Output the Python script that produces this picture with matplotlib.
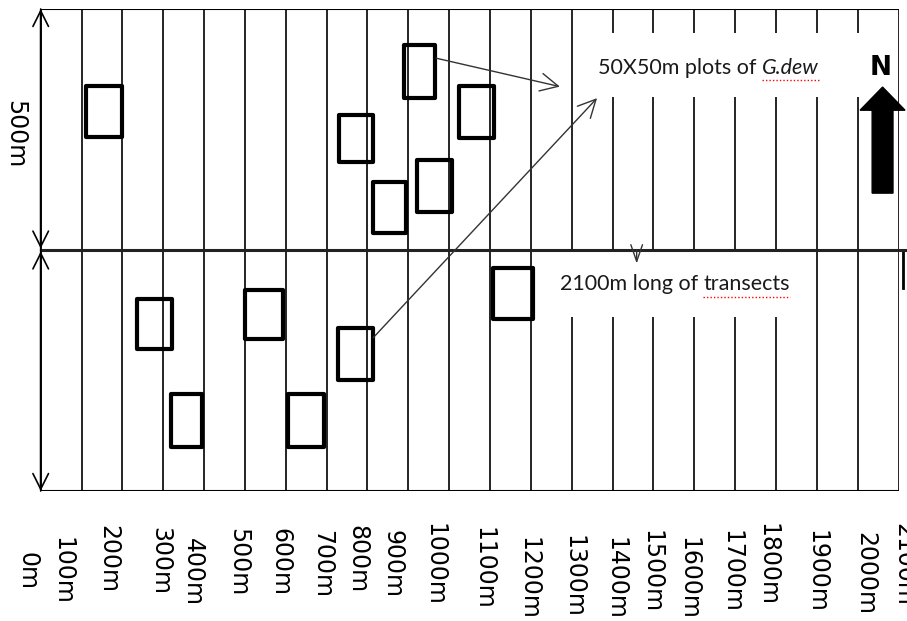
import matplotlib
matplotlib.use("Agg")
import matplotlib.pyplot as plt
from matplotlib.patches import Rectangle

# transects every 100 m along the 2100 m baseline
transect_x = list(range(0, 2200, 100))
tick_labels = [f"{v}m" for v in transect_x]
# the labels in the sketch are hand placed, slightly off their lines
label_dx = [-33, -48, -35, -8, -27, -17, -14, -11, -24, -38, -35,
            -17, -7, 3, 6, -4, -15, -8, -20, 0, 18, 11]
label_drop = [61, 46, 34, 36, 47, 37, 37, 39, 34, 39, 32,
              36, 46, 44, 46, 39, 46, 39, 32, 39, 41, 32]   # pixels below frame

# 50x50 m plots of G.dew (left, bottom, width, height in metres)
plot_x = [110, 890, 1025, 730, 813, 921, 236, 500, 728, 319, 605, 1107]
plot_y = [735, 815, 732, 683, 535, 579, 295, 315, 230, 91, 91, 357]
plot_w = [90, 75, 85, 83, 81, 86, 85, 93, 85, 76, 89, 98]
plot_h = [105, 110, 108, 97, 106, 108, 103, 102, 108, 110, 110, 106]

PX_Y = 0.482  # pixels per metre, vertical

fig = plt.figure(figsize=(9.07, 6.21), dpi=100)
ax = fig.add_axes([40.7 / 907, 130 / 621, 857.8 / 907, 482 / 621])
ax.set_xlim(0, 2100)
ax.set_ylim(0, 1000)
ax.axis("off")

# grid of transects and frame
ax.vlines(transect_x, 0, 1000, color="black", lw=1.2, zorder=1)
ax.hlines([0, 1000], 0, 2100, color="black", lw=1.5, zorder=1)
ax.plot([0, 2116], [500, 500], color="#222222", lw=2.2, clip_on=False, zorder=4)
ax.plot([2111, 2111], [500, 421], color="black", lw=2, clip_on=False)

# white areas behind the labels
ax.add_patch(Rectangle((1340, 817), 695, 133, facecolor="white", edgecolor="none", zorder=3))
ax.add_patch(Rectangle((1259, 361), 600, 138, facecolor="white", edgecolor="none", zorder=3))

# height arrows on the left
for y0, y1 in [(500, 1000), (500, 0)]:
    ax.annotate("", xy=(0, y1), xytext=(0, y0),
                arrowprops=dict(arrowstyle="->,head_length=0.7,head_width=0.35",
                                lw=1.2, color="black", mutation_scale=16,
                                shrinkA=0, shrinkB=0), zorder=4)
    ax.annotate("", xy=(0, y0 + (3 if y1 > y0 else -3)), xytext=(0, y1),
                arrowprops=dict(arrowstyle="->,head_length=0.7,head_width=0.35",
                                lw=1.2, color="black", mutation_scale=16,
                                shrinkA=0, shrinkB=0), zorder=4)

for x, y, w, h in zip(plot_x, plot_y, plot_w, plot_h):
    ax.add_patch(Rectangle((x, y), w, h, fill=False, edgecolor="black",
                           lw=3, joinstyle="round", zorder=5))

# pointers to the label
ptr = dict(arrowstyle="->,head_length=0.8,head_width=0.4", lw=1,
           color="#333333", mutation_scale=16, shrinkA=0, shrinkB=0)
ax.annotate("", xy=(1271, 839), xytext=(968, 898), arrowprops=ptr, zorder=6)
ax.annotate("", xy=(1362, 815), xytext=(814, 318), arrowprops=ptr, zorder=6)
ax.annotate("", xy=(1459, 472), xytext=(1459, 500),
            arrowprops=dict(arrowstyle="->,head_length=1.0,head_width=0.35", lw=1,
                            color="#333333", mutation_scale=12, shrinkA=0, shrinkB=0),
            zorder=6)

tfont = dict(family="Lato", fontsize=15.5, color="#1a1a1a", zorder=7)
t1 = ax.text(1365, 866, "50X50m plots of ", va="baseline", ha="left", **tfont)
t3 = ax.text(1271, 416, "2100m long of ", va="baseline", ha="left", **tfont)
fig.canvas.draw()
inv = ax.transData.inverted()
x_it = inv.transform((t1.get_window_extent().x1, 0))[0]
t2 = ax.text(x_it, 866, "G.dew", va="baseline", ha="left", style="italic", **tfont)
x_tr = inv.transform((t3.get_window_extent().x1, 0))[0]
t4 = ax.text(x_tr, 416, "transects", va="baseline", ha="left", **tfont)
fig.canvas.draw()
for t, y in [(t2, 866), (t4, 416)]:
    bb = t.get_window_extent()
    xa = inv.transform((bb.x0, 0))[0]
    xb = inv.transform((bb.x1, 0))[0]
    ax.plot([xa, xb], [y - 14, y - 14], color="red", lw=1, ls=(0, (1, 1.5)), zorder=7)

# north arrow
ax.arrow(2061, 618, 0, 220, width=51, head_width=110, head_length=48,
         length_includes_head=True, color="black", zorder=8, clip_on=False)
ax.text(2057, 877, "N", family="DejaVu Sans", fontweight="bold", fontsize=19,
        ha="center", va="center", zorder=8)

# side label and rotated tick labels
ax.text(-63, 741, "500m", rotation=-90, fontsize=17, ha="center", va="center",
        family="DejaVu Sans", clip_on=False)
for v, lab, dx, dp in zip(transect_x, tick_labels, label_dx, label_drop):
    ax.text(v + dx, -dp / PX_Y, lab, rotation=-90, fontsize=17, ha="center",
            va="top", family="DejaVu Sans", clip_on=False)

fig.savefig("out.png", dpi=100)
